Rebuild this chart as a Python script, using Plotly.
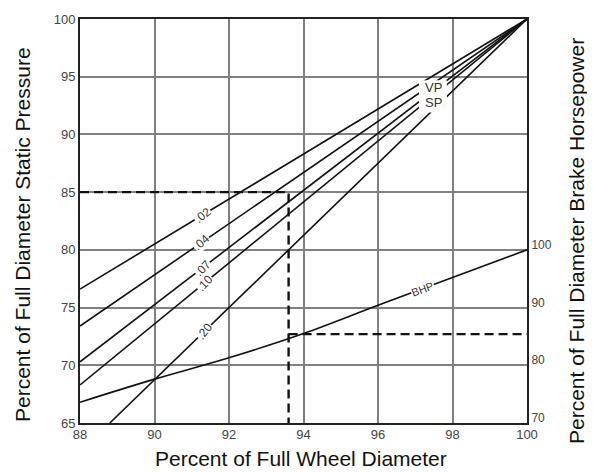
import math
import plotly.graph_objects as go

# ---- data ----
x_ticks = [88, 90, 92, 94, 96, 98, 100]
sp_y_ticks = [65, 70, 75, 80, 85, 90, 95, 100]
bhp_ticks = [70, 80, 90, 100]

sp_labels = [".02", ".04", ".07", ".10", ".20"]
sp_x_start = [88.0, 88.0, 88.0, 88.0, 88.8]
sp_y_start = [76.6, 73.4, 70.3, 68.3, 65.0]
sp_x_end = [100, 100, 100, 100, 100]
sp_y_end = [100, 100, 100, 100, 100]
sp_label_x = [91.3, 91.27, 91.3, 91.35, 91.35]

bhp_x = [88, 90, 92, 94, 96, 98, 100]
bhp_y = [73.6, 77.6, 81.3, 85.5, 90.4, 95.2, 100]
bhp_label_x = 97.2

read_x = 93.6       # wheel diameter read
read_sp = 85        # static pressure read
read_bhp = 85.4     # brake horsepower read

# ---- layout geometry (page has an 8px body margin) ----
OFF = 8
PAGE_W, PAGE_H = 595, 472
W, H = PAGE_W - OFF, PAGE_H - OFF
PL, PR, PT, PB = 80, 527, 19, 423          # plot box in page pixels
ML, MT = PL - OFF, PT - OFF
MR, MB = PAGE_W - PR, PAGE_H - PB
XR = [88, 100]
YR = [65, 100]
Y2R = [70, 140]
pw, ph = PR - PL, PB - PT
kx = pw / (XR[1] - XR[0])
ky = ph / (YR[1] - YR[0])
ky2 = ph / (Y2R[1] - Y2R[0])


def px2paper(px, py):
    return (px - PL) / pw, (PB - py) / ph


fig = go.Figure()
line_style = dict(color="#111111", width=1.6)
label_font = dict(family="Liberation Sans", size=12, color="#333")

annotations = []
for lab, x0, y0, x1, y1, lx in zip(sp_labels, sp_x_start, sp_y_start, sp_x_end, sp_y_end, sp_label_x):
    fig.add_trace(go.Scatter(x=[x0, x1], y=[y0, y1], mode="lines", line=line_style,
                             showlegend=False, hoverinfo="skip"))
    slope = (y1 - y0) / (x1 - x0)
    ly = y0 + slope * (lx - x0)
    ang = -math.degrees(math.atan(slope * ky / kx)) - 8
    annotations.append(dict(x=lx, y=ly, xref="x", yref="y", text=lab, showarrow=False,
                            textangle=ang, bgcolor="white", borderpad=0, font=label_font))

fig.add_trace(go.Scatter(x=bhp_x, y=bhp_y, mode="lines", line=dict(line_style, shape="spline"),
                         yaxis="y2", showlegend=False, hoverinfo="skip"))
i = 4
s2 = (bhp_y[i + 1] - bhp_y[i]) / (bhp_x[i + 1] - bhp_x[i])
bly = bhp_y[i] + s2 * (bhp_label_x - bhp_x[i])
annotations.append(dict(x=bhp_label_x, y=bly, xref="x", yref="y2", text="BHP", showarrow=False,
                        textangle=-math.degrees(math.atan(s2 * ky2 / kx)), bgcolor="white",
                        borderpad=0, font=dict(family="Liberation Sans", size=11, color="#333")))

# dashed reading lines
dash = dict(color="#111111", width=2.4, dash="9px,5px")
fig.add_trace(go.Scatter(x=[XR[0], read_x, read_x], y=[read_sp, read_sp, YR[0]], mode="lines",
                         line=dash, showlegend=False, hoverinfo="skip"))
fig.add_trace(go.Scatter(x=[read_x, XR[1]], y=[read_bhp, read_bhp], mode="lines", yaxis="y2",
                         line=dash, showlegend=False, hoverinfo="skip"))

# VP / SP labels with a white gap behind them
shapes = [dict(type="rect", xref="x", yref="y", x0=97.1, x1=97.85, y0=91.9, y1=94.7,
               fillcolor="white", line=dict(width=0), layer="above")]
vp_font = dict(family="Liberation Sans", size=13, color="#333")
annotations.append(dict(x=97.5, y=94.05, xref="x", yref="y", text="VP", showarrow=False, font=vp_font))
annotations.append(dict(x=97.5, y=92.8, xref="x", yref="y", text="SP", showarrow=False, font=vp_font))

# axis titles (placed in paper coordinates)
titlefont = dict(family="Liberation Sans", size=21, color="#111")
bx, by = px2paper(301, 458)
annotations.append(dict(xref="paper", yref="paper", x=bx, y=by,
                        text="Percent of Full Wheel Diameter", showarrow=False, font=titlefont,
                        xanchor="center", yanchor="middle"))
lx_, ly_ = px2paper(22, 235)
annotations.append(dict(xref="paper", yref="paper", x=lx_, y=ly_,
                        text="Percent of Full Diameter Static Pressure", showarrow=False,
                        font=titlefont, textangle=-90, xanchor="center", yanchor="middle"))
rx_, ry_ = px2paper(576, 241)
annotations.append(dict(xref="paper", yref="paper", x=rx_, y=ry_,
                        text="Percent of Full Diameter Brake Horsepower", showarrow=False,
                        font=titlefont, textangle=-90, xanchor="center", yanchor="middle"))

tickfont = dict(family="Liberation Sans", size=13, color="#444")
axis_common = dict(showline=True, linecolor="#222", linewidth=2, ticks="", zeroline=False,
                   automargin=False)

fig.update_layout(
    width=W, height=H, margin=dict(l=ML, r=MR, t=MT, b=MB, autoexpand=False),
    paper_bgcolor="white", plot_bgcolor="white",
    xaxis=dict(range=XR, tickvals=x_ticks, showgrid=True, gridcolor="#808080", gridwidth=1.5,
               mirror=True, ticklabelstandoff=-2, tickfont=tickfont, **axis_common),
    yaxis=dict(range=YR, tickvals=sp_y_ticks, showgrid=True, gridcolor="#808080", gridwidth=1.5,
               tickfont=tickfont, **axis_common),
    yaxis2=dict(range=Y2R, tickvals=bhp_ticks, overlaying="y", side="right", showgrid=False,
                tickfont=dict(tickfont, size=12), ticklabelshift=-5, **axis_common),
    shapes=shapes, annotations=annotations,
)

fig.write_html("out.html")
